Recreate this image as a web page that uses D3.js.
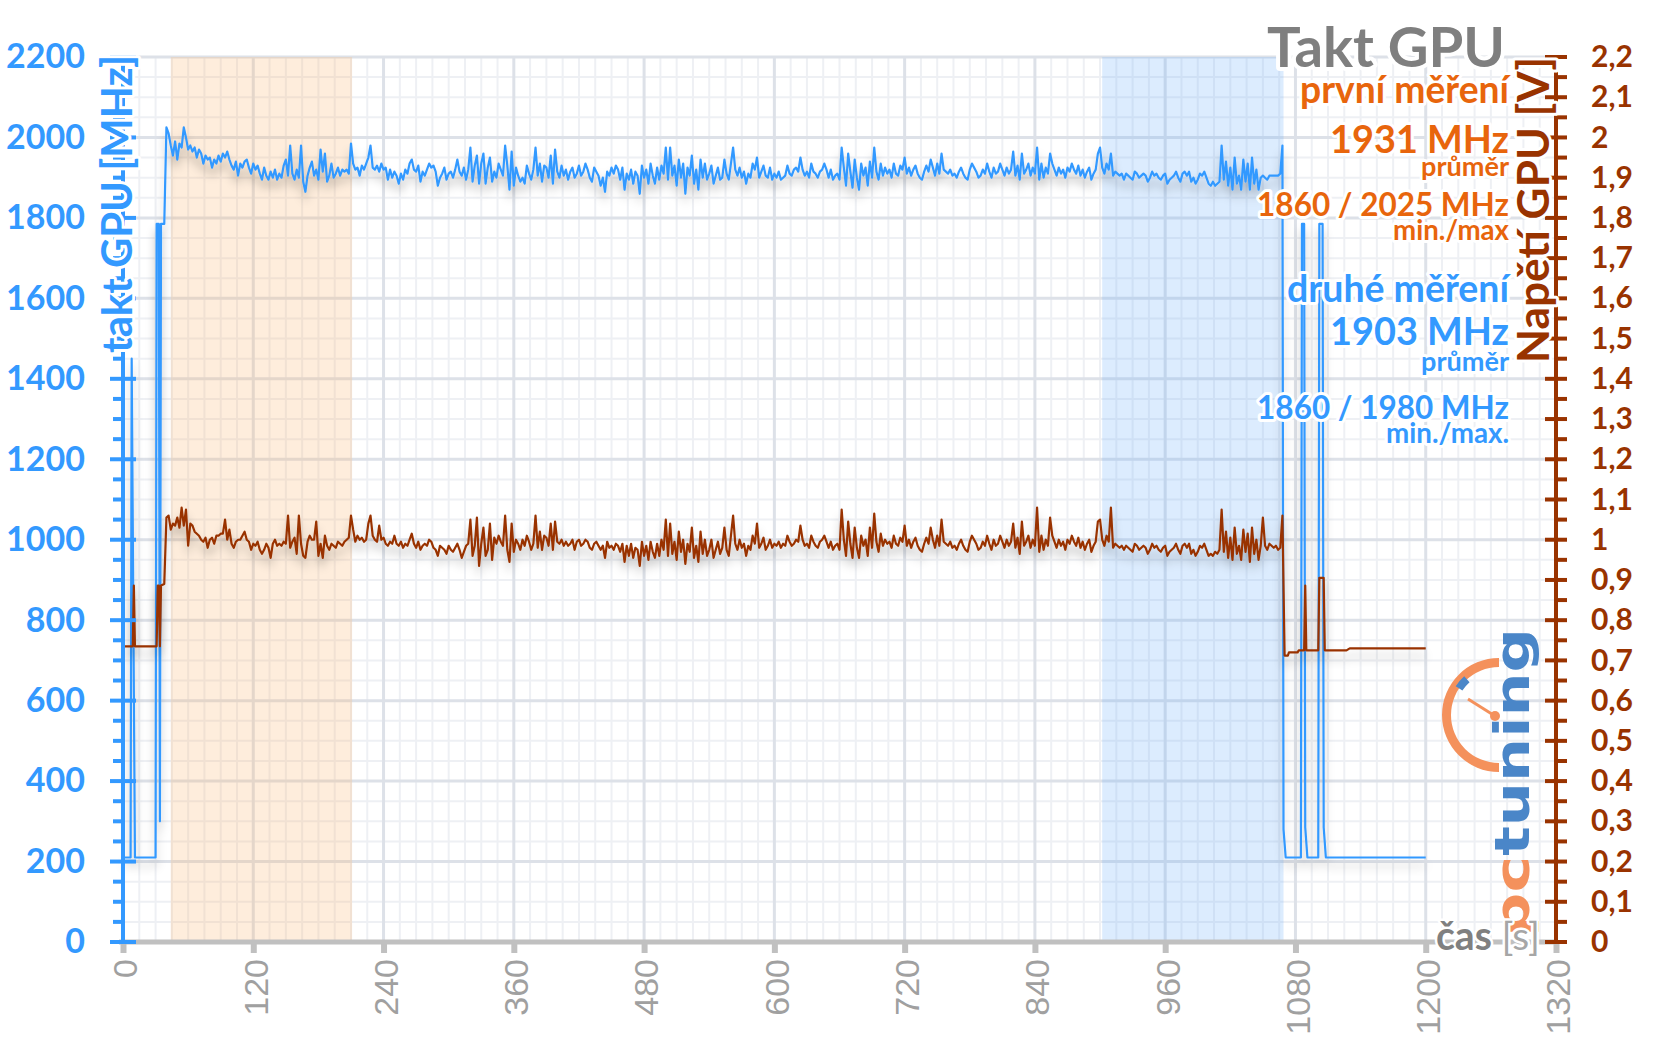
<!DOCTYPE html>
<html>
<head>
<meta charset="utf-8">
<script src="https://cdn.jsdelivr.net/npm/d3@7"></script>
<style>
  body { margin: 0; background: #fff; }
  text { font-family: Lato, "Open Sans", sans-serif; }
</style>
</head>
<body>
<div id="container"></div>
<script>
// --- data -------------------------------------------------------------
// clock (MHz) and voltage (mV), sampled every 2 s from t = 40 s to 1068 s
const mainStart = 40;
const mainStep = 2;
const clockMain = [
  2025,2010,1980,1955,1990,1945,1985,1975,2025,2000,
  1970,1980,1965,1975,1950,1970,1960,1935,1955,1945,
  1950,1925,1945,1935,1955,1940,1960,1950,1965,1945,
  1930,1920,1940,1905,1935,1925,1940,1945,1925,1910,
  1935,1920,1930,1910,1895,1925,1905,1895,1915,1900,
  1920,1895,1910,1900,1930,1945,1905,1980,1910,1895,
  1920,1900,1980,1890,1865,1905,1925,1940,1905,1920,
  1895,1970,1915,1960,1890,1905,1935,1900,1910,1925,
  1905,1920,1915,1920,1910,1985,1935,1920,1925,1905,
  1930,1920,1935,1950,1980,1925,1920,1930,1915,1935,
  1920,1925,1895,1920,1900,1915,1905,1885,1910,1895,
  1920,1910,1935,1945,1920,1915,1930,1890,1915,1905,
  1920,1935,1925,1930,1915,1880,1900,1910,1925,1895,
  1910,1915,1900,1920,1945,1915,1905,1925,1895,1920,
  1975,1890,1930,1955,1885,1935,1960,1885,1925,1950,
  1890,1915,1900,1935,1920,1905,1980,1930,1870,1965,
  1880,1925,1905,1890,1900,1885,1930,1910,1895,1920,
  1975,1905,1935,1890,1930,1925,1900,1955,1885,1970,
  1915,1900,1930,1905,1920,1895,1915,1925,1900,1910,
  1930,1905,1915,1935,1920,1900,1890,1925,1915,1905,
  1880,1900,1865,1915,1905,1925,1910,1930,1920,1895,
  1925,1870,1910,1895,1920,1885,1915,1905,1860,1930,
  1900,1920,1885,1935,1905,1885,1925,1895,1930,1910,
  1975,1895,1975,1905,1930,1880,1945,1900,1935,1860,
  1925,1905,1955,1885,1920,1870,1945,1900,1935,1895,
  1910,1930,1885,1905,1925,1895,1900,1945,1910,1895,
  1935,1975,1920,1905,1925,1900,1915,1885,1910,1900,
  1935,1920,1950,1900,1915,1930,1905,1900,1925,1895,
  1910,1900,1915,1895,1900,1905,1930,1910,1905,1920,
  1925,1915,1950,1920,1905,1915,1900,1935,1915,1910,
  1900,1915,1920,1935,1920,1900,1920,1895,1905,1910,
  1895,1975,1925,1880,1960,1915,1875,1945,1900,1870,
  1935,1905,1925,1880,1940,1900,1975,1915,1895,1935,
  1905,1925,1910,1920,1900,1935,1910,1905,1930,1920,
  1950,1910,1925,1905,1920,1930,1910,1900,1895,1915,
  1930,1915,1945,1925,1905,1935,1910,1960,1920,1915,
  1910,1920,1905,1910,1900,1915,1925,1910,1900,1895,
  1920,1935,1925,1915,1900,1905,1920,1910,1935,1915,
  1900,1925,1910,1915,1935,1920,1905,1925,1910,1920,
  1965,1905,1930,1895,1960,1910,1920,1935,1905,1925,
  1910,1975,1895,1935,1900,1925,1910,1960,1935,1920,
  1905,1925,1910,1920,1900,1925,1915,1935,1920,1910,
  1930,1905,1920,1900,1915,1925,1895,1910,1920,1960,
  1975,1925,1910,1935,1920,1960,1905,1915,1910,1905,
  1910,1895,1910,1905,1900,1895,1915,1910,1900,1905,
  1910,1905,1890,1900,1915,1905,1910,1900,1895,1905,
  1910,1885,1895,1900,1905,1915,1900,1890,1910,1915,
  1905,1915,1890,1900,1885,1895,1910,1905,1915,1900,
  1885,1880,1890,1880,1885,1890,1980,1895,1940,1880,
  1925,1870,1950,1885,1905,1870,1945,1890,1935,1870,
  1950,1885,1920,1870,1900,1905,1900,1895,1905,1905,
  1905,1905,1905,1910,1980
];
const voltMain = [
  1055,1060,1025,1040,1035,1055,1030,1080,1035,1075,
  985,1040,1035,1020,1015,1010,1000,995,1005,980,
  1000,1005,990,1010,1010,1015,1015,1050,1000,1025,
  990,980,995,1000,1000,1010,1020,1000,995,975,
  990,985,995,975,965,975,990,980,955,990,
  1000,985,990,985,995,990,1060,980,995,1005,
  965,1060,990,960,955,995,1010,1000,1000,1045,
  960,990,955,1010,985,975,990,985,980,995,
  990,985,995,1000,1005,1060,1025,995,1010,1000,
  1005,995,1000,1040,1060,1010,1000,995,1035,1000,
  1005,990,985,995,990,1010,990,985,995,980,
  990,985,1000,1015,990,980,995,975,985,990,
  985,1000,995,980,975,960,985,980,975,965,
  985,975,970,980,990,975,955,970,985,990,
  1050,960,985,1055,935,990,1030,960,975,1040,
  950,1005,990,1010,995,985,1060,975,945,1040,
  970,1000,990,975,1000,985,1010,995,975,990,
  1060,980,1020,975,1010,1005,985,1040,975,1045,
  995,990,1000,985,995,985,990,1000,975,995,
  1000,985,990,1000,995,980,975,990,995,985,
  975,985,955,995,980,985,975,990,985,970,
  990,945,985,960,990,955,980,975,935,995,
  960,985,950,995,970,955,990,960,1000,975,
  1050,960,1040,965,995,950,1020,970,1000,940,
  990,970,1030,955,985,945,1020,965,1000,960,
  975,1000,955,975,995,965,980,1030,975,960,
  1010,1060,990,975,1000,980,990,960,985,975,
  1010,990,1040,980,990,1005,975,985,1000,980,
  990,985,995,980,990,985,1010,995,985,990,
  1000,995,1035,1000,985,990,980,1010,995,985,
  980,995,1000,1010,995,980,995,975,985,990,
  975,1075,1000,960,1045,990,955,1030,980,955,
  1010,985,1000,960,1030,980,1065,995,970,1015,
  985,1000,990,995,980,1010,990,985,1005,995,
  1035,985,1000,980,995,1005,985,975,970,990,
  1005,990,1030,1000,980,1010,985,1050,995,990,
  985,995,980,985,975,990,1000,985,975,970,
  995,1010,1000,990,975,980,995,985,1010,990,
  975,1000,985,990,1010,995,980,1000,985,995,
  1040,980,1005,965,1045,985,995,1010,980,1000,
  985,1080,970,1010,975,1000,985,1055,1010,995,
  980,1000,985,995,975,1000,990,1010,995,985,
  1005,980,995,975,990,1000,970,985,995,1045,
  1050,1000,985,1010,995,1080,980,990,985,980,
  985,975,985,980,975,970,990,985,975,980,
  985,980,965,975,990,980,985,975,970,980,
  985,960,970,975,980,990,975,965,985,990,
  980,990,965,975,960,970,985,980,990,975,
  960,965,960,970,965,975,1075,970,1020,955,
  1005,950,1030,965,985,950,1025,970,1015,945,
  1030,965,1000,950,985,1055,985,975,990,985,
  980,985,975,980,1060
];
// idle / transition parts as [seconds, value]
const clockStart = [[0,210],[7,210],[8,1450],[11,210],[30,210],[31,1785],[33,1785],[34,300],[35,1785],[38,1785]];
const clockEnd = [[1069,280],[1071,210],[1085,210],[1086,1785],[1088,1785],[1089,285],[1091,210],
                  [1101,210],[1102,1785],[1105,1785],[1106,285],[1108,210],[1200,210]];
const voltStart = [[0,735],[9,735],[10,886],[11,735],[31,735],[32,886],[33,886],[34,735],[35,886],[38,890]];
const voltEnd = [[1070,712],[1073,712],[1074,720],[1082,720],[1083,725],[1088,725],[1089,886],[1090,725],
                 [1101,725],[1102,905],[1106,905],[1107,725],[1127,725],[1130,730],[1200,730]];

// measurement runs
const runNames = ["první měření", "druhé měření"];
const runBands = [[44, 211], [902, 1069]];
const runAvg = [1931, 1903];
const runMin = [1860, 1860];
const runMax = [2025, 1980];
const runMinMaxLabel = ["min./max", "min./max."];

const timeTicks = d3.range(0, 1321, 120);
const clockTicks = d3.range(0, 2201, 200);
const voltTicks = d3.range(0, 23).map(i => i / 10);

// --- chart -----------------------------------------------------------
const width = 1656;
const height = 1044;
const blue = "#3399ff";
const brown = "#993300";
const orange = "#e8650c";

const x = d3.scaleLinear().domain([0, 1320]).range([123, 1556]);
const y = d3.scaleLinear().domain([0, 2200]).range([942, 57]);
const yV = d3.scaleLinear().domain([0, 2.2]).range([942, 57]);

const svg = d3.select("#container").append("svg")
    .attr("width", width)
    .attr("height", height);

const defs = svg.append("defs");
defs.append("filter")
    .attr("id", "shadow")
    .attr("x", "-5%").attr("y", "-30%").attr("width", "110%").attr("height", "180%")
    .append("feDropShadow")
    .attr("dx", 0).attr("dy", 8).attr("stdDeviation", 5)
    .attr("flood-color", "#000").attr("flood-opacity", 0.24);

function halo(sel, w) {
    return sel.attr("stroke", "#fff")
        .attr("stroke-width", w)
        .attr("stroke-linejoin", "round")
        .attr("paint-order", "stroke");
}
function fit(sel, w) {
    const fs = parseFloat(sel.attr("font-size"));
    sel.attr("font-size", fs * w / sel.node().getComputedTextLength());
    return sel;
}

// grid
const grid = svg.append("g");
const vMinor = d3.range(0, 1321, 15).filter(d => d % 120 !== 0);
const hMinor = d3.range(0, 2201, 50).filter(d => d % 200 !== 0);
grid.selectAll(".vmin").data(vMinor).join("line")
    .attr("x1", d => x(d)).attr("x2", d => x(d))
    .attr("y1", y(2200)).attr("y2", y(0))
    .attr("stroke", "#eef0f4").attr("stroke-width", 2);
grid.selectAll(".hmin").data(hMinor).join("line")
    .attr("x1", x(0)).attr("x2", x(1320))
    .attr("y1", d => y(d)).attr("y2", d => y(d))
    .attr("stroke", "#eef0f4").attr("stroke-width", 2);
grid.selectAll(".vmaj").data(timeTicks).join("line")
    .attr("x1", d => x(d)).attr("x2", d => x(d))
    .attr("y1", y(2200)).attr("y2", y(0))
    .attr("stroke", "#dde1e8").attr("stroke-width", 3);
grid.selectAll(".hmaj").data(clockTicks).join("line")
    .attr("x1", x(0)).attr("x2", x(1320))
    .attr("y1", d => y(d)).attr("y2", d => y(d))
    .attr("stroke", "#dde1e8").attr("stroke-width", 3);

// measurement bands
svg.append("g").selectAll("rect").data(runBands).join("rect")
    .attr("x", d => x(d[0]))
    .attr("width", d => x(d[1]) - x(d[0]))
    .attr("y", y(2200))
    .attr("height", y(0) - y(2200))
    .attr("fill", (d, i) => i === 0 ? "rgba(250,180,110,0.24)" : "rgba(110,175,250,0.24)");

// x axis
const xAxis = svg.append("g")
    .attr("transform", `translate(0,${y(0)})`)
    .call(d3.axisBottom(x).tickValues(timeTicks).tickFormat(d3.format("d")).tickSize(11).tickSizeOuter(0));
xAxis.select(".domain").remove();
xAxis.selectAll(".tick line").attr("stroke", "#c0c0c0").attr("stroke-width", 6);
xAxis.selectAll(".tick text")
    .attr("transform", "rotate(-90)")
    .attr("x", -17).attr("y", 2).attr("dy", "0.35em")
    .attr("text-anchor", "end")
    .attr("fill", "#a0a0a0")
    .style("font-family", "'Liberation Sans', Arial, sans-serif")
    .attr("font-size", 34);
svg.append("line")
    .attr("x1", 119).attr("x2", 1558)
    .attr("y1", y(0)).attr("y2", y(0))
    .attr("stroke", "#c0c0c0").attr("stroke-width", 5);

// pctuning logo
const logo = svg.append("g");
const lc = [1499, 715];
logo.append("path")
    .attr("transform", `translate(${lc[0]},${lc[1]})`)
    .attr("d", d3.arc()({innerRadius: 48, outerRadius: 57, startAngle: Math.PI, endAngle: 2 * Math.PI}))
    .attr("fill", "#f4915c");
logo.append("path")
    .attr("transform", `translate(${lc[0]},${lc[1]})`)
    .attr("d", d3.arc()({innerRadius: 44, outerRadius: 52, startAngle: 5.3, endAngle: 5.55}))
    .attr("fill", "#4a86c8");
logo.append("line")
    .attr("x1", 1495).attr("y1", 716).attr("x2", 1468).attr("y2", 699)
    .attr("stroke", "#f4915c").attr("stroke-width", 3);
logo.append("circle").attr("cx", 1495).attr("cy", 716).attr("r", 5).attr("fill", "#f4915c");
const logoText = logo.append("text")
    .attr("transform", "translate(1529,937) rotate(-90)")
    .attr("font-size", 48)
    .attr("font-weight", 700)
    .style("font-family", "'DejaVu Sans', sans-serif")
    .attr("textLength", 309)
    .attr("lengthAdjust", "spacingAndGlyphs");
logoText.append("tspan").attr("fill", "#f4915c").text("pc");
logoText.append("tspan").attr("fill", "#4a86c8").text("tuning");

// data lines
const clockSeries = clockStart
    .concat(clockMain.map((v, i) => [mainStart + i * mainStep, v]))
    .concat(clockEnd);
const voltSeries = voltStart
    .concat(voltMain.map((v, i) => [mainStart + i * mainStep, v]))
    .concat(voltEnd)
    .map(d => [d[0], d[1] / 1000]);

svg.append("path")
    .datum(clockSeries)
    .attr("fill", "none")
    .attr("stroke", blue)
    .attr("stroke-width", 2.2)
    .attr("stroke-linejoin", "round")
    .attr("filter", "url(#shadow)")
    .attr("d", d3.line().x(d => x(d[0])).y(d => y(d[1])));
svg.append("path")
    .datum(voltSeries)
    .attr("fill", "none")
    .attr("stroke", brown)
    .attr("stroke-width", 2.2)
    .attr("stroke-linejoin", "round")
    .attr("filter", "url(#shadow)")
    .attr("d", d3.line().x(d => x(d[0])).y(d => yV(d[1])));

// left axis
const leftTicks = d3.range(0, 2201, 50);
svg.append("g").selectAll("line").data(leftTicks).join("line")
    .attr("x1", d => d % 200 === 0 ? 110 : 113)
    .attr("x2", d => d % 200 === 0 ? 136 : 123)
    .attr("y1", d => y(d)).attr("y2", d => y(d))
    .attr("stroke", blue).attr("stroke-width", 4);
svg.append("line")
    .attr("x1", x(0)).attr("x2", x(0)).attr("y1", y(2200) - 2).attr("y2", y(0) + 2)
    .attr("stroke", blue).attr("stroke-width", 4);
const yAxis = svg.append("g")
    .attr("transform", `translate(${x(0)},0)`)
    .call(d3.axisLeft(y).tickValues(clockTicks).tickFormat(d3.format("d")).tickSize(0).tickPadding(38));
yAxis.select(".domain").remove();
yAxis.selectAll("text")
    .attr("fill", blue)
    .attr("font-size", 34)
    .attr("font-weight", 700);

// right axis
const rightTicks = d3.range(0, 45).map(i => i * 0.05);
svg.append("g").selectAll("line").data(rightTicks).join("line")
    .attr("x1", (d, i) => i % 2 === 0 ? 1545 : 1556)
    .attr("x2", 1567)
    .attr("y1", d => yV(d)).attr("y2", d => yV(d))
    .attr("stroke", brown).attr("stroke-width", 4);
svg.append("line")
    .attr("x1", x(1320)).attr("x2", x(1320)).attr("y1", y(2200) - 2).attr("y2", y(0) + 2)
    .attr("stroke", brown).attr("stroke-width", 4);
const vAxis = svg.append("g")
    .attr("transform", `translate(${x(1320)},0)`)
    .call(d3.axisRight(yV).tickValues(voltTicks).tickSize(0).tickPadding(35)
        .tickFormat(d => String(+d.toFixed(1)).replace(".", ",")));
vAxis.select(".domain").remove();
vAxis.selectAll("text")
    .attr("fill", brown)
    .attr("font-size", 30)
    .attr("font-weight", 700);

// axis titles
const leftTitle = svg.append("text")
    .attr("transform", "translate(132,55) rotate(-90)")
    .attr("text-anchor", "end")
    .attr("font-size", 40)
    .attr("font-weight", 700)
    .attr("fill", blue)
    .text("takt GPU [MHz]");
halo(leftTitle, 6);
fit(leftTitle, 298);

const rightTitle = svg.append("text")
    .attr("transform", "translate(1549,57) rotate(-90)")
    .attr("text-anchor", "end")
    .attr("font-size", 42)
    .attr("font-weight", 700)
    .attr("fill", brown)
    .text("Napětí GPU [V]");
halo(rightTitle, 6);
fit(rightTitle, 306);

const timeTitle = svg.append("text")
    .attr("x", 1436).attr("y", 950)
    .attr("font-size", 36);
halo(timeTitle, 5);
timeTitle.append("tspan").attr("font-weight", 700).attr("fill", "#808080").text("čas ");
timeTitle.append("tspan").attr("fill", "#a6a6a6").text("[s]");
fit(timeTitle, 104);

// title and run summaries
const title = svg.append("text")
    .attr("x", 1505).attr("y", 67)
    .attr("text-anchor", "end")
    .attr("font-size", 56)
    .attr("font-weight", 700)
    .attr("fill", "#7f7f7f")
    .text("Takt GPU");
halo(title, 8);
fit(title, 238);

const noteRows = [
    {y: [103, 153, 176, 216, 240]},
    {y: [302, 345, 371, 419, 443]}
];
const noteWidths = [[209, 179, 88, 252, 116], [222, 179, 88, 252, 123]];
const noteSizes = [36, 38, 26, 32, 26];
runNames.forEach((name, i) => {
    const color = i === 0 ? orange : blue;
    const lines = [
        name,
        `${runAvg[i]} MHz`,
        "průměr",
        `${runMin[i]} / ${runMax[i]} MHz`,
        runMinMaxLabel[i]
    ];
    lines.forEach((s, j) => {
        const t = svg.append("text")
            .attr("x", 1509).attr("y", noteRows[i].y[j])
            .attr("text-anchor", "end")
            .attr("font-size", noteSizes[j])
            .attr("font-weight", 700)
            .attr("fill", color)
            .text(s);
        halo(t, 6);
        fit(t, noteWidths[i][j]);
    });
});
</script>
</body>
</html>
